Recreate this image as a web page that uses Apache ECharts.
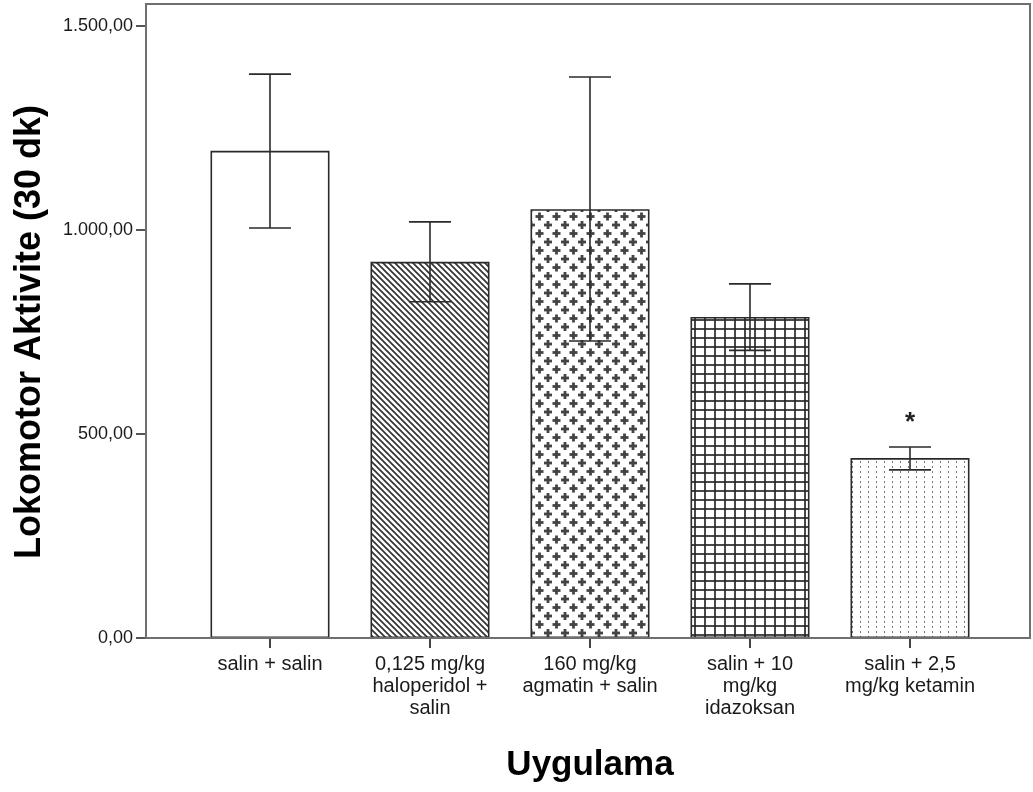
<!DOCTYPE html>
<html>
<head>
<meta charset="utf-8">
<script src="https://cdn.jsdelivr.net/npm/echarts@6/dist/echarts.min.js"></script>
<style>
html,body{margin:0;padding:0;background:#fff;}
#chart{width:1033px;height:792px;}
</style>
</head>
<body>
<div id="chart"></div>
<script>
// ---- data ----
const categories = [
  "salin + salin",
  "0,125 mg/kg\nhaloperidol +\nsalin",
  "160 mg/kg\nagmatin + salin",
  "salin + 10\nmg/kg\nidazoksan",
  "salin + 2,5\nmg/kg ketamin"
];
const means = [1194, 922, 1051, 787, 441];
const lowerCI = [1005, 824, 728, 705, 412];
const upperCI = [1382, 1020, 1375, 868, 468];
const significance = ["", "", "", "", "*"];
const yTicks = [0, 500, 1000, 1500];
const yAxisTitle = "Lokomotor Aktivite (30 dk)";
const xAxisTitle = "Uygulama";

// ---- fill patterns ----
function makeCanvas(w, h) {
  const c = document.createElement('canvas');
  c.width = w; c.height = h;
  const ctx = c.getContext('2d');
  ctx.fillStyle = '#ffffff';
  ctx.fillRect(0, 0, w, h);
  return [c, ctx];
}
function diagPattern() {
  const [c, ctx] = makeCanvas(6, 6);
  ctx.strokeStyle = '#333';
  ctx.lineWidth = 1.7;
  for (let k = -1; k <= 1; k++) {
    ctx.beginPath();
    ctx.moveTo(k * 6 - 1, -1);
    ctx.lineTo(k * 6 + 7, 7);
    ctx.stroke();
  }
  return c;
}
function plusPattern() {
  const [c, ctx] = makeCanvas(17, 17);
  ctx.fillStyle = '#444';
  function plus(cx, cy) {
    ctx.fillRect(cx - 4, cy - 1.4, 8, 2.8);
    ctx.fillRect(cx - 1.4, cy - 4, 2.8, 8);
  }
  const pts = [[4, 4], [12.5, 12.5], [4 + 17, 4], [4, 4 + 17], [12.5 - 17, 12.5], [12.5, 12.5 - 17], [12.5 - 17, 12.5 - 17]];
  pts.forEach(p => plus(p[0], p[1]));
  return c;
}
function gridPattern() {
  const [c, ctx] = makeCanvas(10, 9);
  ctx.fillStyle = 'rgba(40,40,40,0.85)';
  ctx.fillRect(4, 0, 2, 9);
  ctx.fillRect(0, 4, 10, 2);
  return c;
}
function dotPattern() {
  const [c, ctx] = makeCanvas(8, 5);
  ctx.fillStyle = '#777';
  ctx.fillRect(4, 1, 1, 2);
  return c;
}
const fills = [
  '#ffffff',
  { image: diagPattern(), repeat: 'repeat' },
  { image: plusPattern(), repeat: 'repeat' },
  { image: gridPattern(), repeat: 'repeat' },
  { image: dotPattern(), repeat: 'repeat' }
];

function fmt(v) {
  const s = String(Math.round(v));
  const withDots = s.replace(/\B(?=(\d{3})+(?!\d))/g, '.');
  return withDots + ',00';
}

const chart = echarts.init(document.getElementById('chart'), null, { renderer: 'canvas' });
chart.setOption({
  animation: false,
  backgroundColor: '#ffffff',
  grid: { left: 190, right: 43, top: 26, bottom: 154, containLabel: false },
  xAxis: {
    type: 'category',
    data: categories,
    boundaryGap: true,
    axisLine: { show: false },
    axisTick: { show: true, alignWithLabel: true, length: 10, lineStyle: { color: '#444', width: 2 } },
    axisLabel: {
      interval: 0, margin: 15,
      fontFamily: 'Liberation Sans, Arial, sans-serif', fontSize: 20, lineHeight: 22,
      color: '#1a1a1a', align: 'center'
    },
    name: xAxisTitle,
    nameLocation: 'middle',
    nameGap: 110,
    nameTextStyle: { fontFamily: 'Liberation Sans, Arial, sans-serif', fontSize: 35, fontWeight: 'bold', color: '#000' },
    splitLine: { show: false }
  },
  yAxis: {
    type: 'value',
    min: 0, max: 1500, interval: 500,
    offset: 44,
    axisLine: { show: false },
    axisTick: { show: true, length: 10, lineStyle: { color: '#555', width: 2 } },
    axisLabel: {
      margin: 13,
      fontFamily: 'Liberation Sans, Arial, sans-serif', fontSize: 18, color: '#1a1a1a',
      formatter: function (v) { return yTicks.indexOf(v) >= 0 ? fmt(v) : ''; }
    },
    splitLine: { show: false },
    name: yAxisTitle,
    nameLocation: 'middle',
    nameRotate: 90,
    nameGap: 98,
    nameTextStyle: { fontFamily: 'Liberation Sans, Arial, sans-serif', fontSize: 36, fontWeight: 'bold', color: '#000' }
  },
  graphic: [{
    type: 'rect',
    z: 100,
    shape: { x: 146, y: 4, width: 884, height: 634 },
    style: { fill: 'none', stroke: '#6f6f6f', lineWidth: 2 },
    silent: true
  }],
  series: [
    {
      type: 'bar',
      barWidth: 119,
      data: means.map((v, i) => ({
        value: v,
        itemStyle: { color: fills[i], borderColor: '#2a2a2a', borderWidth: 1.6 }
      })),
      z: 2
    },
    {
      type: 'custom',
      z: 5,
      data: means.map((v, i) => [i, lowerCI[i], upperCI[i]]),
      renderItem: function (params, api) {
        const x = api.value(0);
        const lo = api.coord([x, api.value(1)]);
        const hi = api.coord([x, api.value(2)]);
        const hw = 21;
        const style = { stroke: '#2a2a2a', lineWidth: 1.6 };
        const children = [
          { type: 'line', shape: { x1: hi[0], y1: hi[1], x2: lo[0], y2: lo[1] }, style: style },
          { type: 'line', shape: { x1: hi[0] - hw, y1: hi[1], x2: hi[0] + hw, y2: hi[1] }, style: style },
          { type: 'line', shape: { x1: lo[0] - hw, y1: lo[1], x2: lo[0] + hw, y2: lo[1] }, style: style }
        ];
        const sig = significance[params.dataIndex];
        if (sig) {
          children.push({
            type: 'text',
            style: {
              text: sig, x: hi[0], y: hi[1] - 24,
              align: 'center', verticalAlign: 'middle',
              font: 'bold 26px Liberation Sans, Arial, sans-serif', fill: '#222'
            }
          });
        }
        return { type: 'group', children: children };
      }
    }
  ]
});
</script>
</body>
</html>
